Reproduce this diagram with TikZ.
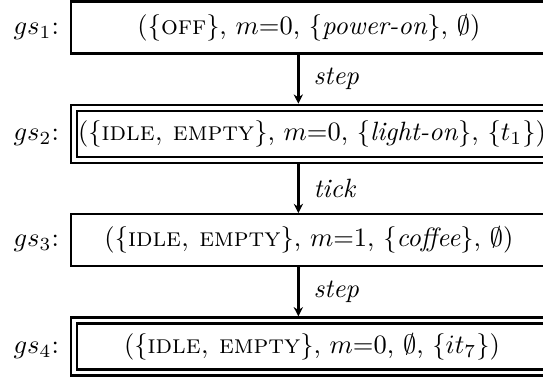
\documentclass[tikz,border=0pt]{standalone}
\usepackage{tikz}
\usetikzlibrary{arrows.meta, positioning}

\begin{document}
\begin{tikzpicture}[
  >={Stealth[length=3.5pt, width=3.5pt]},
  x=0.3775pt, y=-0.3775pt,
  node distance=18.5pt,
  gstate/.style={draw, line width=0.9pt, minimum width=179.5pt, minimum height=19.6pt, inner xsep=1pt},
  gfinal/.style={gstate, double, double distance=1.4pt, outer sep=1.6pt},
  glabel/.style={inner sep=0pt},
  trans/.style={->, line width=0.9pt}
]
\useasboundingbox (0,0) rectangle (543,377);
\clip (0,0) rectangle (543,377);

\node[gstate, anchor=west] (s1) at (70,27.5) {(\{\textsc{off}\}, $m{=}0$, \{\textit{power-on}\}, $\emptyset$)};
\node[gfinal, below=of s1.south west, anchor=north west] (s2) {(\{\textsc{idle, empty}\}, $m{=}0$, \{\textit{light-on}\}, \{$t_1$\})};
\node[gstate, below=of s2.south west, anchor=north west] (s3) {(\{\textsc{idle, empty}\}, $m{=}1$, \{\textit{coffee}\}, $\emptyset$)};
\node[gfinal, below=of s3.south west, anchor=north west] (s4) {(\{\textsc{idle, empty}\}, $m{=}0$, $\emptyset$, \{$it_7$\})};

\node[glabel, base left=4pt of s1.base west] (l1) {$gs_1$:};
\node[glabel, base left=4pt of s2.base west] (l2) {$gs_2$:};
\node[glabel, base left=4pt of s3.base west] (l3) {$gs_3$:};
\node[glabel, base left=4pt of s4.base west] (l4) {$gs_4$:};

\draw[trans] ([xshift=-4pt]s1.south) -- ([xshift=-4pt]s1.south |- s2.north) node[midway, right=2pt] {\textit{step}};
\draw[trans] ([xshift=-4pt]s1.south |- s2.south) -- ([xshift=-4pt]s1.south |- s3.north) node[midway, right=2pt] {\textit{tick}};
\draw[trans] ([xshift=-4pt]s1.south |- s3.south) -- ([xshift=-4pt]s1.south |- s4.north) node[midway, right=2pt] {\textit{step}};
\end{tikzpicture}
\end{document}
